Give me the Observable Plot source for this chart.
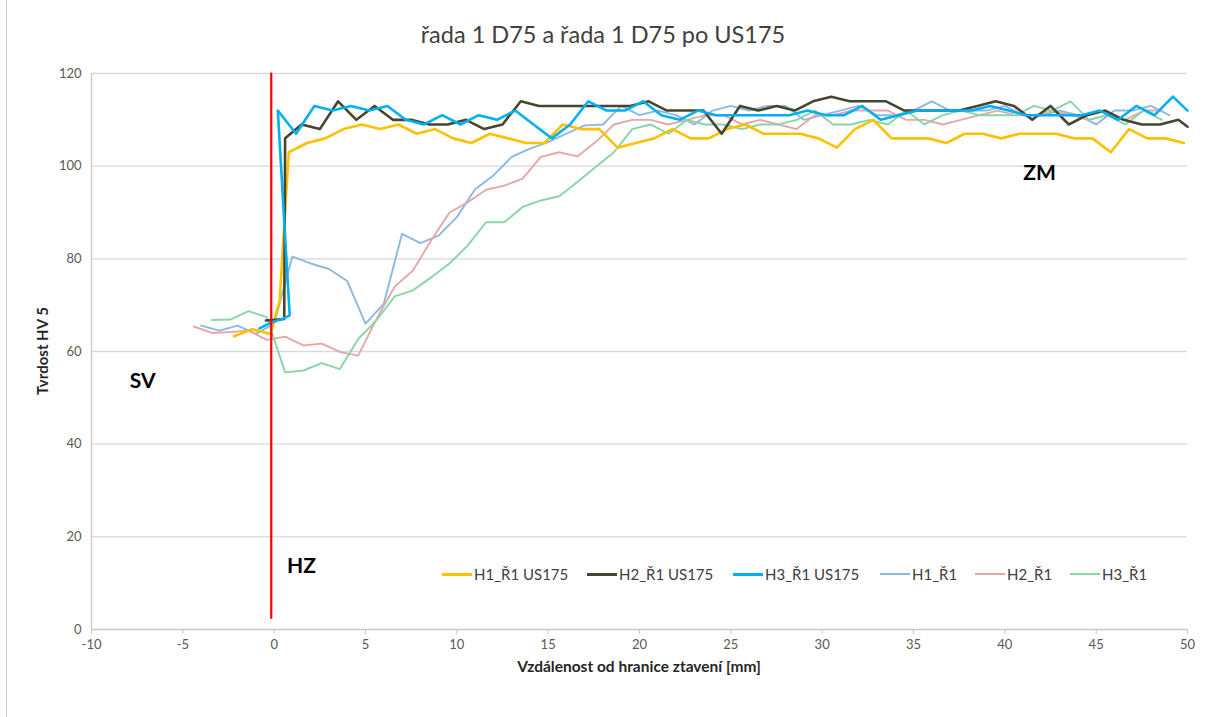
<!DOCTYPE html>
<html><head><meta charset="utf-8">
<script src="https://cdn.jsdelivr.net/npm/d3@7"></script>
<script src="https://cdn.jsdelivr.net/npm/@observablehq/plot@0.6"></script>
<style>
body{margin:0;background:#fff;font-family:Lato,"Open Sans",sans-serif;}
#wrap{position:relative;width:1206px;height:717px;overflow:hidden;background:#fff;}
#frame{position:absolute;left:6px;top:0;width:1px;height:717px;background:#c8c8c8;}
#title{position:absolute;left:0;top:20px;width:1206px;text-align:center;font-size:23.5px;color:#404040;}
#chart{position:absolute;left:0;top:60px;}
#xlabel{position:absolute;left:91px;width:1096px;top:657px;text-align:center;font-size:15.5px;font-weight:bold;color:#262626;}
#ylabel{position:absolute;left:42px;top:351px;transform:translate(-50%,-50%) rotate(-90deg);font-size:15px;font-weight:bold;color:#262626;white-space:nowrap;}
#legend{position:absolute;left:0;top:565px;width:1206px;height:20px;font-size:15px;color:#404040;}
#legend .it{position:absolute;top:0;display:flex;align-items:center;white-space:nowrap;}
#legend .sw{width:30px;margin-right:2px;}
</style>
</head><body>
<div id="wrap">
<div id="frame"></div>
<div id="title">řada 1 D75 a řada 1 D75 po US175</div>
<div id="chart"></div>
<div id="xlabel">Vzdálenost od hranice ztavení [mm]</div>
<div id="ylabel">Tvrdost HV 5</div>
<div id="legend"></div>
</div>
<script>
const xTicks = [-10,-5,0,5,10,15,20,25,30,35,40,45,50];
const yTicks = [0,20,40,60,80,100,120];
const seriesNames = ["H1_Ř1 US175","H2_Ř1 US175","H3_Ř1 US175","H1_Ř1","H2_Ř1","H3_Ř1"];
const seriesColors = ["#FFC000","#47452F","#00B0F0","#8DB8E4","#E6A7A7","#86D6A6"];
const seriesWidths = [2.6,2.6,2.6,1.9,1.9,1.9];
const legendLeft = [442,587,733,880,975,1070];

const h1us = [[-2.2,63.3],[-1.2,64.8],[-0.2,63.8],[0.3,71],[0.8,103],[1.8,105],[2.8,106],[3.8,108],[4.8,109],[5.8,108],[6.8,109],[7.8,107],[8.8,108],[9.8,106],[10.8,105],[11.8,107],[12.8,106],[13.8,105],[14.8,105],[15.8,109],[16.8,108],[17.8,108],[18.8,104],[19.8,105],[20.8,106],[21.8,108],[22.8,106],[23.8,106],[24.8,108],[25.8,109],[26.8,107],[27.8,107],[28.8,107],[29.8,106],[30.8,104],[31.8,108],[32.8,110],[33.8,106],[34.8,106],[35.8,106],[36.8,105],[37.8,107],[38.8,107],[39.8,106],[40.8,107],[41.8,107],[42.8,107],[43.8,106],[44.8,106],[45.8,103],[46.8,108],[47.8,106],[48.8,106],[49.8,105]];
const h2us = [[-0.45,66.7],[0.55,67],[0.6,106],[1.5,109],[2.5,108],[3.5,114],[4.5,110],[5.5,113],[6.5,110],[7.5,110],[8.5,109],[9.5,109],[10.5,110],[11.5,108],[12.5,109],[13.5,114],[14.5,113],[15.5,113],[16.5,113],[17.5,113],[18.5,113],[19.5,113],[20.5,114],[21.5,112],[22.5,112],[23.5,112],[24.5,107],[25.5,113],[26.5,112],[27.5,113],[28.5,112],[29.5,114],[30.5,115],[31.5,114],[32.5,114],[33.5,114],[34.5,112],[35.5,112],[36.5,112],[37.5,112],[38.5,113],[39.5,114],[40.5,113],[41.5,110],[42.5,113],[43.5,109],[44.5,111],[45.5,112],[46.5,110],[47.5,109],[48.5,109],[49.5,110],[50,108.5]];
const h3us = [[-0.8,65],[-0.15,66.3],[0.45,67],[0.85,67.8],[0.2,112],[1.2,107],[2.2,113],[3.2,112],[4.2,113],[5.2,112],[6.2,113],[7.2,110],[8.2,109],[9.2,111],[10.2,109],[11.2,111],[12.2,110],[13.2,112],[14.2,109],[15.2,106],[16.2,109],[17.2,114],[18.2,112],[19.2,112],[20.2,114],[21.2,111],[22.2,110],[23.2,112],[24.2,111],[25.2,111],[26.2,111],[27.2,111],[28.2,111],[29.2,112],[30.2,111],[31.2,111],[32.2,113],[33.2,110],[34.2,111],[35.2,112],[36.2,112],[37.2,112],[38.2,112],[39.2,113],[40.2,112],[41.2,111],[42.2,111],[43.2,111],[44.2,111],[45.2,112],[46.2,110],[47.2,113],[48.2,111],[49.2,115],[50,112]];
const h1 = [[-4,65.6],[-3,64.5],[-2,65.6],[-1,63.8],[0,66],[1,80.5],[2,79],[3,77.8],[4,75.2],[5,66],[6,70.3],[7,85.4],[8,83.4],[9,85],[10,89],[11,95],[12,98],[13,102],[14,103.8],[15,105.2],[16,107],[17,108.8],[18,109],[19,113],[20,111],[21,112],[22,111],[23,109],[24,112],[25,113],[26,112],[27,113],[28,113],[29,110],[30,111],[31,112],[32,113],[33,111],[34,111],[35,112],[36,114],[37,112],[38,112],[39,112],[40,113],[41,111],[42,111],[43,112],[44,111],[45,109],[46,112],[47,112],[48,113],[49,111]];
const h2 = [[-4.4,65.4],[-3.4,64],[-2.4,64.2],[-1.4,64.5],[-0.4,62.5],[0.6,63.2],[1.6,61.3],[2.6,61.7],[3.6,59.9],[4.6,59.1],[5.6,67],[6.6,74],[7.6,77.5],[8.6,84],[9.6,90],[10.6,92.2],[11.6,94.9],[12.6,95.8],[13.6,97.3],[14.6,102],[15.6,103],[16.6,102.1],[17.6,105.2],[18.6,109],[19.6,110],[20.6,110],[21.6,109],[22.6,110],[23.6,111],[24.6,111],[25.6,109],[26.6,110],[27.6,109],[28.6,108],[29.6,111],[30.6,111],[31.6,112],[32.6,112],[33.6,112],[34.6,110],[35.6,110],[36.6,109],[37.6,110],[38.6,111],[39.6,112],[40.6,111],[41.6,111],[42.6,112],[43.6,111],[44.6,110],[45.6,111],[46.6,110],[47.6,112],[48.6,112]];
const h3 = [[-3.4,66.8],[-2.4,66.9],[-1.4,68.7],[-0.4,67.4],[0.6,55.5],[1.6,55.9],[2.6,57.5],[3.6,56.2],[4.6,62.7],[5.6,66.7],[6.6,71.9],[7.6,73.2],[8.6,76],[9.6,79],[10.6,82.9],[11.6,87.9],[12.6,87.9],[13.6,91.2],[14.6,92.6],[15.6,93.5],[16.6,96.6],[17.6,99.8],[18.6,103],[19.6,108],[20.6,109],[21.6,107],[22.6,110],[23.6,109],[24.6,109],[25.6,108],[26.6,109],[27.6,109],[28.6,110],[29.6,112],[30.6,109],[31.6,109],[32.6,110],[33.6,109],[34.6,112],[35.6,109],[36.6,111],[37.6,112],[38.6,111],[39.6,111],[40.6,111],[41.6,113],[42.6,112],[43.6,114],[44.6,110],[45.6,111],[46.6,109],[47.6,112],[48.6,110]];
const boundary = [[-0.16,2.5],[-0.16,120]];
const zoneLabels = [{x:-7.2,y:53.5,t:"SV"},{x:1.5,y:13.6,t:"HZ"},{x:41.9,y:98.4,t:"ZM"}];

const allSeries = [h1us,h2us,h3us,h1,h2,h3];
const drawOrder = [3,4,5,0,1,2];

const lineMarks = drawOrder.map(i => Plot.line(allSeries[i], {
  x: d => d[0], y: d => d[1], stroke: seriesColors[i], strokeWidth: seriesWidths[i],
  strokeLinejoin: "round", strokeLinecap: "round", curve: "linear"
}));

const chart = Plot.plot({
  width: 1206, height: 657,
  marginLeft: 91, marginRight: 19, marginTop: 13, marginBottom: 88,
  style: {fontFamily: "Lato, 'Open Sans', sans-serif", background: "transparent"},
  x: {domain: [-10, 50], label: null},
  y: {domain: [0, 120], label: null},
  marks: [
    Plot.gridY(yTicks.filter(d => d > 0), {stroke: "#d9d9d9", strokeOpacity: 1, strokeWidth: 1.3}),
    Plot.ruleX([-10], {stroke: "#c8c8c8", strokeWidth: 1.3}),
    Plot.ruleY([0], {stroke: "#c8c8c8", strokeWidth: 1.6}),
    Plot.axisX(xTicks, {tickSize: 5, stroke: "#c8c8c8", tickPadding: 5, fontSize: 13, fill: "#595959", tickFormat: d => String(d), label: null}),
    Plot.axisY(yTicks, {tickSize: 0, tickPadding: 10, fontSize: 13, fill: "#595959", tickFormat: d => String(d), label: null}),
    ...lineMarks,
    Plot.line(boundary, {x: d => d[0], y: d => d[1], stroke: "#FF0000", strokeWidth: 2.2}),
    Plot.text(zoneLabels, {x: "x", y: "y", text: "t", fontSize: 21, fontWeight: "bold", fill: "#000"})
  ]
});
document.getElementById("chart").appendChild(chart);

const leg = document.getElementById("legend");
seriesNames.forEach((n, i) => {
  const it = document.createElement("div"); it.className = "it";
  it.style.left = legendLeft[i] + "px";
  const sw = document.createElement("div"); sw.className = "sw";
  sw.style.height = (i < 3 ? 3 : 2) + "px"; sw.style.background = seriesColors[i];
  const tx = document.createElement("span"); tx.textContent = n;
  it.appendChild(sw); it.appendChild(tx); leg.appendChild(it);
});
</script>
</body></html>
